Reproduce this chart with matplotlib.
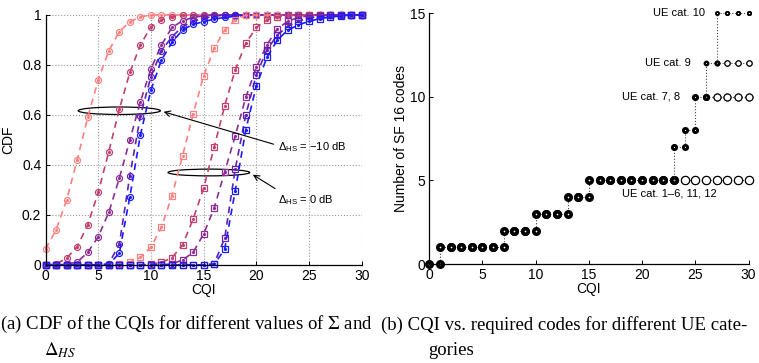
import matplotlib
matplotlib.use('Agg')
import matplotlib.pyplot as plt
from matplotlib.patches import Ellipse

plt.rcParams['font.family'] = ['Liberation Sans', 'DejaVu Sans']
plt.rcParams['mathtext.fontset'] = 'custom'
plt.rcParams['mathtext.rm'] = 'Liberation Sans'
plt.rcParams['mathtext.it'] = 'Liberation Sans:italic'

cqi = list(range(31))

# CDF curves, Delta_HS = -10 dB (circles)
c_salmon = [0.064, 0.14, 0.26, 0.42, 0.59, 0.74, 0.857, 0.933, 0.973, 0.992] + [1.0] * 21
c_rose = [0, 0.004, 0.027, 0.073, 0.16, 0.29, 0.453, 0.623, 0.77, 0.88, 0.953, 0.98, 0.993, 0.998] + [1.0] * 17
c_purple = [0, 0, 0.003, 0.012, 0.05, 0.113, 0.21, 0.347, 0.5, 0.653, 0.784, 0.88, 0.95, 0.977, 0.99, 0.997] + [1.0] * 15
c_violet = [0, 0, 0, 0, 0, 0, 0.005, 0.083, 0.357, 0.596, 0.753, 0.857, 0.913, 0.953, 0.975, 0.987, 0.995] + [1.0] * 14
c_blue = [0, 0, 0, 0, 0, 0, 0.002, 0.047, 0.273, 0.52, 0.70, 0.82, 0.89, 0.94, 0.963, 0.973, 0.984, 0.99, 0.995, 0.998] + [1.0] * 11

# CDF curves, Delta_HS = 0 dB (squares)
s_salmon = [0] * 7 + [0.005, 0.012, 0.03, 0.071, 0.151, 0.277, 0.436, 0.603, 0.756, 0.867, 0.94, 0.98, 1.0] + [1.0] * 11
s_rose = [0] * 10 + [0.004, 0.01, 0.029, 0.08, 0.183, 0.307, 0.471, 0.637, 0.78, 0.887, 0.95, 0.98, 0.993] + [1.0] * 8
s_purple = [0] * 12 + [0.005, 0.02, 0.05, 0.124, 0.227, 0.373, 0.516, 0.67, 0.79, 0.88, 0.945, 0.975, 0.99, 0.997] + [1.0] * 5
s_violet = [0] * 16 + [0.005, 0.107, 0.383, 0.6, 0.76, 0.86, 0.92, 0.955, 0.975, 0.988, 0.995] + [1.0] * 4
s_blue = [0] * 16 + [0.002, 0.063, 0.297, 0.54, 0.716, 0.83, 0.9, 0.94, 0.96, 0.975, 0.985, 0.992, 0.996, 1.0, 1.0]

colors = ['#ff8080', '#c04070', '#8e2c96', '#6020b8', '#1a1aff']
circle_curves = [c_salmon, c_rose, c_purple, c_violet, c_blue]
square_curves = [s_salmon, s_rose, s_purple, s_violet, s_blue]

# SF16 codes per CQI for each UE category
codes_cat1_6 = [0, 1, 1, 1, 1, 1, 1, 2, 2, 2, 3, 3, 3, 4, 4, 5, 5, 5, 5, 5, 5, 5, 5, 5, 5, 5, 5, 5, 5, 5, 5]
codes_cat7_8 = [0, 1, 1, 1, 1, 1, 1, 2, 2, 2, 3, 3, 3, 4, 4, 5, 5, 5, 5, 5, 5, 5, 5, 7, 8, 10, 10, 10, 10, 10, 10]
codes_cat9 = [0, 1, 1, 1, 1, 1, 1, 2, 2, 2, 3, 3, 3, 4, 4, 5, 5, 5, 5, 5, 5, 5, 5, 7, 8, 10, 12, 12, 12, 12, 12]
codes_cat10 = [0, 1, 1, 1, 1, 1, 1, 2, 2, 2, 3, 3, 3, 4, 4, 5, 5, 5, 5, 5, 5, 5, 5, 7, 8, 10, 12, 15, 15, 15, 15]
cat_labels = ['UE cat. 1\u20136, 11, 12', 'UE cat. 7, 8', 'UE cat. 9', 'UE cat. 10']
cat_codes = [codes_cat1_6, codes_cat7_8, codes_cat9, codes_cat10]
cat_max = [5, 10, 12, 15]
cat_split = [23, 26, 27, 99]


def stairs(x, y):
    xs, ys = [], []
    for i in range(len(x)):
        xs.append(x[i]); ys.append(y[i])
        if i + 1 < len(x):
            xs.append(x[i + 1]); ys.append(y[i])
    return xs, ys


fig = plt.figure(figsize=(7.59, 3.63), dpi=100)

# ---- (a) CDF of CQI ----
ax1 = fig.add_axes([0.06, 0.27, 0.4165, 0.6887])
for curves, mk in [(circle_curves, 'o'), (square_curves, 's')]:
    for vals, col in zip(curves, colors):
        ax1.plot(cqi, vals, '--', color=col, lw=1.2, dashes=(4, 3), marker=mk,
                 ms=4.3 if mk == 'o' else 4.0, mfc='none', mec=col, mew=0.9, clip_on=False)
        ax1.plot(cqi, vals, ls='none', marker='.', ms=2.5, color=col, clip_on=False)

ax1.add_patch(Ellipse((7.0, 0.617), 7.8, 0.03, fill=False, ec='black', lw=0.9))
ax1.add_patch(Ellipse((15.5, 0.37), 7.75, 0.027, fill=False, ec='black', lw=0.9))
ax1.annotate('', xy=(10.95, 0.616), xytext=(21.9, 0.48),
             arrowprops=dict(arrowstyle='->', lw=0.8, color='black'))
ax1.annotate('', xy=(19.45, 0.367), xytext=(22.0, 0.30),
             arrowprops=dict(arrowstyle='->', lw=0.8, color='black'))
ax1.text(22.1, 0.47, r'$\Delta_{\mathrm{HS}}$' + ' = \u221210 dB', fontsize=8, va='center')
ax1.text(22.1, 0.26, r'$\Delta_{\mathrm{HS}}$' + ' = 0 dB', fontsize=8, va='center')

ax1.set_xlim(0, 30)
ax1.set_ylim(0, 1)
ax1.set_xticks(range(0, 31, 5))
ax1.set_yticks([0, 0.2, 0.4, 0.6, 0.8, 1])
ax1.set_yticklabels(['0', '0.2', '0.4', '0.6', '0.8', '1'])
ax1.grid(True, ls=':', color='#999999', lw=0.8)
ax1.set_axisbelow(True)
ax1.set_xlabel('CQI', fontsize=10, labelpad=0)
ax1.set_ylabel('CDF', fontsize=10, labelpad=5)

# ---- (b) CQI vs. required codes ----
ax2 = fig.add_axes([0.5656, 0.2727, 0.4206, 0.6906])
thick = [(3.9, 2.6), (3.0, 2.1), (2.5, 1.7), (2.3, 1.3)]
openm = [5.9, 5.0, 3.8]
prev_max = -1
for k, (codes, top, split) in enumerate(zip(cat_codes, cat_max, cat_split)):
    xs, ys = stairs(cqi, codes)
    pts = [(x, y) for x, y in zip(xs, ys) if y > prev_max or (k == 0)]
    lx = [p[0] for p in pts]
    ly = [p[1] for p in pts]
    if k > 0:
        # connect from where this category branches off
        i0 = xs.index(lx[0])
        lx = [xs[i0]] + lx
        ly = [ys[i0]] + ly
    ax2.plot(lx, ly, ls=':', color='#444444', lw=0.8, clip_on=False)
    fx = [p[0] for p in pts if p[0] <= split]
    fy = [p[1] for p in pts if p[0] <= split]
    ox = [p[0] for p in pts if p[0] > split]
    oy = [p[1] for p in pts if p[0] > split]
    ms, mew = thick[k]
    ax2.plot(fx, fy, ls='none', marker='o', ms=ms, mew=mew, mec='black', mfc='white', clip_on=False)
    if ox:
        ax2.plot(ox, oy, ls='none', marker='o', ms=openm[k], mew=0.8, mec='black', mfc='white', clip_on=False)
    prev_max = top

ax2.text(25.9, 15, cat_labels[3], fontsize=8, ha='right', va='center')
ax2.text(24.6, 12, cat_labels[2], fontsize=8, ha='right', va='center')
ax2.text(23.6, 10, cat_labels[1], fontsize=8, ha='right', va='center')
ax2.text(18.1, 4.2, cat_labels[0], fontsize=8, ha='left', va='center')

ax2.set_xlim(0, 30)
ax2.set_ylim(0, 15)
ax2.set_xticks(range(0, 31, 5))
ax2.set_yticks([0, 5, 10, 15])
ax2.set_xlabel('CQI', fontsize=10, labelpad=0)
ax2.set_ylabel('Number of SF 16 codes', fontsize=10, labelpad=1)

for ax in (ax1, ax2):
    ax.spines['top'].set_visible(False)
    ax.spines['right'].set_visible(False)
    ax.tick_params(direction='in', length=3, width=0.7, labelsize=10, pad=3)
    for s in ('left', 'bottom'):
        ax.spines[s].set_linewidth(0.9)

# captions
cap = dict(fontsize=13.5, family='Liberation Serif', math_fontfamily='stix', va='center')
fig.text(0.0, 0.105, r'(a) CDF of the CQIs for different values of $\Sigma$ and', **cap)
fig.text(0.058, 0.035, r'$\Delta_{HS}$', **cap)
fig.text(0.502, 0.105, '(b) CQI vs. required codes for different UE cate-', **cap)
fig.text(0.564, 0.035, 'gories', **cap)

fig.savefig('out.png', dpi=100)
